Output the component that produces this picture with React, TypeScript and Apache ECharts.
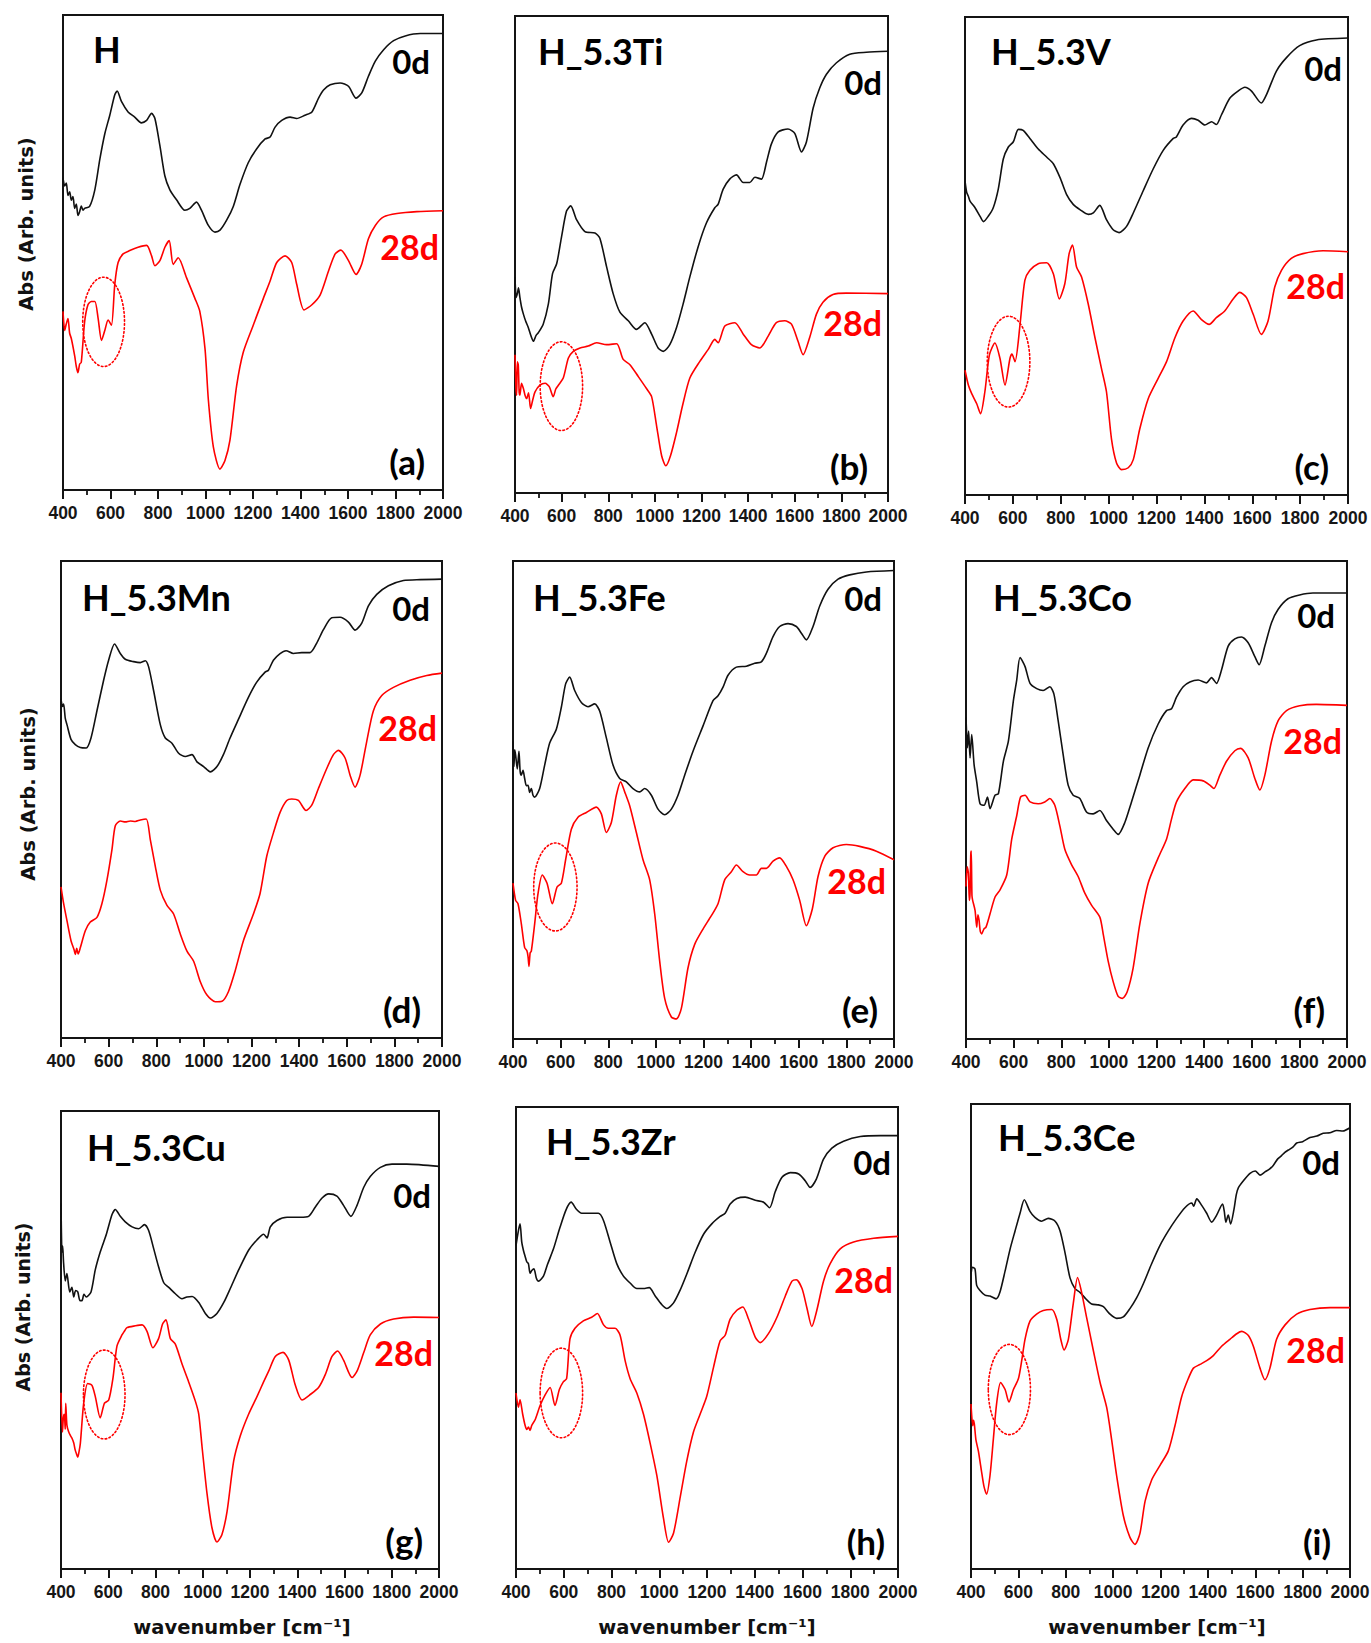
import React, { useEffect, useRef } from "react";
import * as echarts from "echarts";

// FTIR spectra, 400–2000 cm-1, before (0d) and after 28 days (28d) of soaking.
// Each curve is a list of [wavenumber, absorbance (arbitrary, offset per panel)].

const X_MIN = 400;
const X_MAX = 2000;
const X_STEP = 200;

const H_0d = [[400,65.7],[407,64.0],[414,64.6],[421,62.0],[428,62.8],[435,61.0],[442,61.8],[449,59.3],[456,60.2],[463,57.8],[470,58.6],[477,59.8],[484,58.9],[491,59.3],[512,59.7],[534,63.2],[555,69.6],[576,75.0],[597,78.9],[618,83.2],[628,84.0],[646,81.8],[674,79.6],[702,78.5],[730,77.3],[752,77.8],[773,79.3],[787,78.2],[808,72.5],[829,66.1],[850,63.2],[878,61.1],[913,58.9],[934,59.3],[962,60.6],[983,58.9],[1012,55.7],[1040,54.3],[1061,54.7],[1089,56.8],[1117,59.7],[1145,64.3],[1180,68.9],[1215,71.8],[1251,73.9],[1272,74.3],[1293,76.4],[1321,77.8],[1356,78.5],[1384,78.2],[1419,78.9],[1448,79.6],[1476,82.5],[1497,84.2],[1525,85.3],[1567,85.7],[1602,85.0],[1634,82.5],[1658,83.6],[1686,87.1],[1715,90.3],[1750,92.7],[1792,94.6],[1841,95.6],[1904,96.1],[2000,96.1]];
const H_28d = [[400,37.6],[407,33.6],[414,35.0],[421,36.1],[428,33.0],[435,31.9],[449,28.3],[456,26.0],[463,24.7],[470,26.5],[477,26.9],[491,35.4],[505,39.0],[519,39.7],[534,39.7],[548,36.1],[562,31.5],[576,33.6],[590,35.8],[604,34.7],[618,43.3],[632,47.9],[653,49.7],[681,50.4],[716,51.1],[752,51.5],[773,49.3],[787,47.2],[808,48.3],[829,51.1],[847,52.5],[864,47.5],[885,48.9],[920,44.7],[955,40.4],[976,37.6],[998,29.7],[1012,19.0],[1033,9.1],[1061,4.4],[1082,6.2],[1103,10.5],[1131,21.9],[1159,29.0],[1201,34.7],[1244,40.4],[1272,44.0],[1300,47.9],[1335,49.3],[1363,47.9],[1384,43.3],[1415,37.9],[1448,39.0],[1483,41.1],[1518,46.1],[1546,49.7],[1570,50.5],[1602,48.3],[1634,45.4],[1658,47.6],[1686,52.9],[1715,55.7],[1750,57.5],[1806,58.2],[1890,58.6],[2000,58.8]];

const Ti_0d = [[400,45.3],[405,41.0],[410,41.8],[415,43.0],[421,41.0],[428,39.0],[436,37.5],[446,36.0],[457,34.7],[468,33.0],[479,31.8],[490,33.0],[500,33.6],[521,35.4],[543,39.6],[561,46.0],[579,48.1],[600,53.8],[621,59.1],[639,60.2],[664,57.3],[700,54.8],[743,54.5],[764,53.4],[793,47.4],[821,41.8],[850,37.9],[886,36.1],[921,34.3],[957,35.7],[986,33.3],[1014,30.4],[1036,29.7],[1064,31.1],[1093,34.7],[1121,39.6],[1150,45.3],[1186,51.7],[1221,56.6],[1257,59.8],[1271,60.5],[1293,63.7],[1321,65.8],[1350,66.7],[1379,65.1],[1407,65.1],[1429,66.2],[1457,65.8],[1479,69.4],[1500,73.2],[1529,75.7],[1571,76.3],[1600,75.4],[1629,71.5],[1650,73.6],[1679,80.7],[1707,84.9],[1736,87.8],[1779,90.2],[1836,92.0],[1907,92.4],[2000,92.6]];
const Ti_28d = [[400,29.0],[404,22.0],[407,20.5],[410,27.5],[414,26.9],[418,21.0],[421,20.5],[428,23.0],[436,21.9],[443,20.5],[450,19.8],[458,21.0],[467,17.7],[476,19.5],[486,21.2],[507,22.6],[529,23.0],[547,22.3],[564,20.2],[575,21.8],[586,22.6],[607,24.1],[629,28.3],[650,29.7],[679,30.4],[714,30.8],[750,31.5],[793,31.1],[836,31.3],[864,28.0],[893,26.9],[929,24.4],[964,21.9],[986,20.2],[1007,14.2],[1029,7.8],[1047,5.7],[1067,7.8],[1093,12.7],[1119,18.4],[1150,24.1],[1193,27.6],[1229,30.1],[1257,32.2],[1271,31.5],[1300,35.0],[1343,35.7],[1379,33.3],[1414,31.1],[1450,30.4],[1486,32.9],[1521,35.7],[1557,36.1],[1586,35.4],[1614,31.8],[1636,29.0],[1664,32.6],[1693,37.5],[1721,40.0],[1764,41.6],[1821,41.9],[2000,41.8]];

const V_0d = [[400,65.7],[407,63.3],[414,62.5],[421,61.5],[442,60.1],[463,58.3],[477,57.2],[497,58.3],[518,60.1],[539,64.0],[560,70.3],[581,72.8],[602,73.9],[623,76.5],[643,76.3],[671,74.6],[706,72.4],[741,70.7],[769,69.3],[797,66.4],[824,62.9],[852,60.8],[880,59.7],[915,58.7],[936,59.0],[963,60.6],[991,57.6],[1019,55.5],[1044,54.9],[1075,56.2],[1103,59.0],[1144,63.6],[1186,68.2],[1228,72.1],[1270,74.6],[1283,74.9],[1311,77.4],[1346,78.8],[1374,78.4],[1402,77.4],[1430,78.1],[1450,77.5],[1471,79.5],[1506,83.0],[1541,84.5],[1569,85.3],[1597,84.5],[1638,82.0],[1659,83.7],[1701,88.7],[1743,91.5],[1798,94.0],[1868,95.2],[2000,95.6]];
const V_28d = [[400,26.1],[414,23.0],[428,21.2],[449,19.1],[465,17.0],[483,21.6],[502,29.3],[525,31.8],[546,28.6],[567,23.0],[588,28.6],[596,29.5],[609,27.9],[630,35.7],[650,44.9],[671,47.0],[706,48.4],[741,48.6],[769,46.3],[794,41.0],[817,44.2],[835,50.5],[849,52.3],[866,47.7],[887,45.6],[915,39.9],[943,32.9],[970,26.5],[991,21.6],[1012,11.7],[1033,6.7],[1054,5.3],[1082,5.7],[1103,7.4],[1130,13.8],[1165,20.1],[1207,24.4],[1242,27.9],[1277,32.9],[1311,36.4],[1353,38.5],[1388,36.7],[1420,35.7],[1450,37.1],[1485,38.5],[1520,41.0],[1548,42.4],[1576,41.3],[1604,37.8],[1638,33.6],[1666,36.4],[1694,43.5],[1722,47.0],[1763,49.5],[1812,50.5],[1896,51.1],[2000,50.9]];

const Mn_0d = [[400,71.1],[406,69.5],[411,70.0],[418,67.0],[425,65.7],[442,62.6],[460,61.5],[481,60.9],[506,60.8],[526,62.9],[551,68.6],[579,75.0],[600,79.2],[625,82.6],[649,80.6],[670,79.4],[705,78.9],[733,78.7],[754,79.1],[768,77.8],[789,72.8],[817,65.7],[838,62.9],[866,61.8],[894,59.7],[922,59.0],[950,59.4],[971,57.9],[999,56.9],[1027,55.8],[1055,56.9],[1082,59.4],[1110,62.9],[1145,66.8],[1187,71.4],[1222,74.6],[1257,76.7],[1271,77.1],[1292,79.2],[1320,80.6],[1345,81.2],[1376,80.6],[1411,80.8],[1446,80.8],[1474,82.8],[1502,85.6],[1537,88.1],[1572,88.2],[1607,87.2],[1635,85.5],[1663,87.0],[1691,90.6],[1726,93.0],[1775,94.8],[1838,95.9],[1908,96.1],[2000,96.2]];
const Mn_28d = [[400,31.7],[411,28.2],[425,24.6],[442,20.4],[455,18.5],[460,17.5],[466,18.8],[472,17.6],[481,18.9],[502,22.5],[523,24.3],[551,25.3],[572,28.2],[593,33.1],[614,39.5],[628,44.5],[649,45.5],[670,45.3],[691,45.5],[712,45.4],[733,45.7],[758,45.9],[775,41.6],[796,36.0],[817,31.0],[845,27.8],[873,26.0],[901,21.8],[929,18.2],[957,16.1],[985,11.8],[1013,9.0],[1048,7.6],[1076,7.7],[1103,9.7],[1131,14.0],[1166,20.4],[1208,26.0],[1236,30.3],[1264,38.1],[1292,43.0],[1320,47.3],[1348,49.8],[1369,50.1],[1397,49.8],[1429,47.7],[1453,48.8],[1481,52.3],[1516,56.5],[1544,59.4],[1565,60.3],[1593,58.7],[1614,55.1],[1635,52.6],[1656,55.1],[1684,62.2],[1712,68.6],[1747,71.8],[1796,73.5],[1866,75.0],[1936,76.0],[2000,76.5]];

const Fe_0d = [[400,62.3],[404,57.0],[407,60.5],[411,59.4],[418,56.5],[425,60.2],[430,56.0],[435,55.2],[442,56.2],[449,54.5],[456,53.0],[463,53.1],[470,51.6],[477,52.4],[484,51.0],[491,50.6],[512,52.4],[533,57.3],[554,61.9],[582,64.8],[603,69.4],[621,74.3],[638,75.7],[659,72.9],[687,70.4],[715,69.5],[743,70.1],[764,68.6],[792,63.0],[820,57.3],[848,54.5],[876,53.8],[904,52.4],[932,51.7],[953,52.4],[981,51.0],[1009,48.1],[1037,46.9],[1065,48.1],[1093,51.0],[1121,55.2],[1156,60.2],[1198,65.5],[1240,70.8],[1261,71.8],[1282,73.6],[1303,76.1],[1338,77.8],[1380,78.0],[1415,78.6],[1443,78.9],[1464,80.7],[1492,84.2],[1520,86.3],[1555,86.9],[1590,86.3],[1611,84.9],[1632,83.5],[1660,86.3],[1688,90.6],[1723,94.1],[1765,96.2],[1814,97.1],[1884,97.7],[2000,98.0]];
const Fe_28d = [[400,32.6],[411,29.0],[421,28.3],[435,24.1],[449,19.1],[458,18.5],[463,17.3],[467,15.2],[472,18.0],[477,18.4],[491,24.1],[505,30.4],[523,34.3],[543,32.6],[565,28.3],[585,31.8],[603,32.6],[621,37.5],[645,43.9],[673,46.4],[708,47.4],[750,48.5],[771,47.1],[792,43.2],[813,45.3],[834,51.0],[852,53.8],[869,51.7],[890,48.8],[918,43.2],[946,37.5],[974,33.3],[995,26.2],[1016,16.3],[1037,8.5],[1065,4.6],[1086,4.2],[1107,6.4],[1135,14.9],[1163,19.8],[1198,23.0],[1233,25.8],[1261,28.3],[1289,33.3],[1317,35.0],[1338,36.4],[1366,35.0],[1394,34.3],[1422,34.3],[1443,35.7],[1464,35.7],[1492,37.2],[1520,37.9],[1548,36.1],[1576,33.3],[1604,29.0],[1632,23.7],[1657,27.2],[1681,34.0],[1709,38.2],[1744,40.0],[1800,40.7],[1856,40.3],[1926,39.3],[2000,37.5]];

const Co_0d = [[400,67.3],[406,60.9],[411,64.4],[417,58.8],[424,63.7],[434,57.4],[445,53.8],[459,49.2],[476,48.9],[490,50.6],[501,48.2],[522,51.0],[536,51.3],[557,58.1],[578,62.3],[599,70.8],[613,75.1],[627,79.8],[648,77.9],[669,74.4],[697,73.3],[724,72.9],[752,73.7],[769,72.2],[787,66.6],[808,59.5],[829,53.1],[850,51.0],[878,50.3],[906,47.5],[934,47.1],[962,47.8],[990,45.7],[1018,43.9],[1039,42.8],[1067,45.3],[1095,49.6],[1130,55.2],[1165,60.9],[1207,65.9],[1242,68.7],[1263,69.1],[1284,71.5],[1312,73.7],[1340,74.7],[1375,75.1],[1410,74.5],[1431,75.6],[1452,74.4],[1473,77.2],[1501,82.2],[1529,83.7],[1557,84.1],[1585,82.9],[1613,80.0],[1631,78.3],[1655,82.2],[1683,87.1],[1711,89.9],[1752,92.1],[1801,92.9],[1857,93.3],[2000,93.3]];
const Co_28d = [[400,31.9],[405,36.0],[410,34.7],[414,29.0],[417,30.5],[420,38.5],[422,39.3],[425,30.0],[428,29.0],[438,26.9],[445,23.4],[450,26.0],[455,24.8],[460,22.5],[466,22.0],[475,23.0],[484,23.4],[501,26.2],[522,29.7],[543,31.2],[571,34.3],[592,41.8],[613,46.7],[629,50.6],[648,51.0],[669,49.6],[703,49.2],[731,49.6],[752,50.3],[773,48.9],[794,44.6],[815,39.7],[843,36.5],[871,34.0],[899,30.5],[927,28.0],[962,25.5],[976,22.0],[997,16.3],[1018,12.0],[1039,8.9],[1057,8.5],[1077,9.9],[1102,14.9],[1130,24.1],[1165,32.6],[1207,37.9],[1242,41.8],[1263,46.0],[1284,49.6],[1319,52.4],[1354,54.2],[1396,54.0],[1424,53.1],[1441,52.4],[1466,55.2],[1494,58.1],[1529,60.3],[1553,60.8],[1585,58.8],[1613,54.5],[1634,52.1],[1655,55.2],[1683,62.3],[1711,66.6],[1746,68.7],[1801,69.7],[1871,70.0],[2000,69.8]];

const Cu_0d = [[400,79.8],[404,69.2],[407,70.5],[411,66.8],[418,62.9],[425,64.5],[437,60.5],[446,61.5],[454,59.4],[462,60.8],[471,60.5],[480,58.6],[489,58.6],[497,60.0],[507,59.4],[527,60.5],[545,65.3],[566,69.2],[592,73.1],[616,77.4],[630,78.5],[651,77.0],[672,75.8],[701,74.7],[729,74.3],[753,75.2],[771,73.9],[792,70.0],[813,66.0],[835,62.5],[856,61.5],[884,60.1],[912,59.0],[933,59.4],[955,59.5],[983,58.2],[1011,55.8],[1032,54.8],[1060,55.8],[1089,58.2],[1117,61.3],[1152,65.3],[1194,69.6],[1230,71.9],[1258,73.1],[1272,72.3],[1286,74.7],[1314,76.1],[1357,76.8],[1413,76.8],[1448,77.0],[1476,79.0],[1505,81.0],[1533,81.9],[1568,81.4],[1596,79.4],[1627,77.0],[1653,79.4],[1681,83.3],[1709,85.7],[1752,87.7],[1801,88.4],[1864,88.4],[2000,87.9]];
const Cu_28d = [[400,38.5],[406,29.9],[410,33.0],[414,33.8],[418,30.5],[420,36.2],[425,31.4],[432,30.0],[440,29.1],[447,28.5],[454,27.5],[460,26.0],[465,25.2],[471,24.4],[476,25.5],[482,27.5],[496,36.2],[513,40.5],[531,40.1],[545,37.7],[566,33.0],[584,36.2],[602,36.9],[620,41.7],[637,48.7],[658,51.1],[668,51.9],[679,52.7],[715,53.1],[743,53.3],[764,51.9],[789,48.3],[813,50.3],[830,53.5],[844,54.4],[863,50.3],[884,49.1],[912,44.8],[940,40.9],[969,36.6],[983,33.8],[997,26.7],[1018,16.5],[1039,9.0],[1060,5.9],[1081,7.5],[1103,12.6],[1131,23.6],[1159,29.1],[1194,33.8],[1230,37.7],[1258,40.9],[1279,43.2],[1307,46.4],[1340,47.3],[1364,45.6],[1392,40.1],[1420,36.9],[1455,38.1],[1491,39.7],[1519,42.5],[1547,46.4],[1571,47.6],[1596,45.6],[1632,41.8],[1653,43.2],[1681,47.2],[1709,51.1],[1752,53.5],[1808,54.6],[1893,55.0],[2000,54.9]];

const Zr_0d = [[400,70.0],[410,73.2],[417,74.7],[424,70.8],[431,69.0],[438,67.7],[445,66.5],[452,66.1],[459,64.0],[466,64.6],[475,65.0],[485,63.0],[494,62.3],[515,63.4],[531,65.8],[557,69.3],[584,73.9],[610,77.8],[631,79.4],[654,77.8],[675,77.0],[710,77.0],[745,77.0],[766,75.5],[794,70.8],[822,66.1],[850,63.4],[878,61.9],[906,60.7],[934,60.7],[958,60.9],[983,59.1],[1011,57.2],[1032,56.4],[1060,57.6],[1087,60.3],[1115,63.8],[1150,68.5],[1185,72.4],[1220,74.7],[1255,76.3],[1276,77.0],[1297,79.0],[1325,80.2],[1360,80.5],[1402,79.8],[1437,79.4],[1462,78.2],[1486,81.7],[1514,84.8],[1549,85.8],[1584,85.5],[1612,84.0],[1632,82.6],[1658,84.4],[1688,88.7],[1723,91.1],[1772,92.6],[1842,93.6],[1926,93.8],[2000,93.8]];
const Zr_28d = [[400,38.1],[410,35.0],[417,36.6],[428,33.5],[438,31.1],[445,30.2],[452,30.7],[459,30.0],[466,31.1],[480,32.3],[501,35.4],[522,37.7],[543,39.3],[563,35.4],[582,38.9],[598,40.5],[612,41.2],[626,49.8],[647,52.1],[682,53.7],[717,54.5],[741,55.3],[766,52.9],[787,52.1],[815,52.1],[836,50.6],[857,45.1],[878,41.2],[906,38.1],[934,33.5],[962,27.2],[990,20.2],[1018,10.9],[1039,5.8],[1060,7.8],[1088,15.6],[1115,23.3],[1143,29.6],[1171,33.5],[1199,37.4],[1227,43.6],[1255,49.4],[1276,50.6],[1297,54.1],[1325,56.0],[1350,56.7],[1374,54.1],[1402,50.2],[1423,49.0],[1458,51.0],[1493,54.5],[1528,59.1],[1556,62.3],[1574,62.6],[1598,60.7],[1619,56.4],[1639,52.5],[1660,56.0],[1688,62.3],[1716,66.1],[1758,69.3],[1814,70.8],[1898,71.6],[2000,72.0]];

const Ce_0d = [[400,63.4],[407,64.9],[417,64.5],[424,61.0],[438,59.9],[459,58.9],[480,58.7],[506,58.1],[522,59.5],[544,64.1],[565,68.8],[586,72.7],[607,76.5],[625,79.4],[649,76.9],[670,75.6],[698,74.8],[726,75.4],[755,74.8],[776,72.7],[797,68.0],[818,62.6],[839,60.3],[860,59.5],[881,58.3],[909,57.0],[938,56.8],[959,56.4],[987,54.8],[1015,53.9],[1043,54.2],[1071,56.0],[1099,58.3],[1128,61.4],[1163,65.7],[1198,69.6],[1233,72.7],[1268,75.4],[1303,77.7],[1332,78.7],[1340,78.0],[1353,79.6],[1374,78.2],[1395,76.5],[1416,74.6],[1437,76.1],[1462,78.5],[1469,77.0],[1476,74.6],[1486,76.1],[1496,74.2],[1510,77.3],[1520,80.5],[1529,82.0],[1550,83.5],[1578,85.1],[1600,85.6],[1620,84.7],[1641,85.4],[1660,86.0],[1676,86.8],[1695,88.2],[1711,88.9],[1725,89.6],[1740,90.1],[1760,90.8],[1775,91.6],[1800,91.9],[1831,92.8],[1860,93.1],[1887,93.7],[1915,93.8],[1944,94.3],[1970,94.2],[2000,94.9]];
const Ce_28d = [[400,35.5],[407,30.8],[410,32.0],[414,31.2],[421,27.7],[431,25.4],[445,20.8],[455,17.7],[466,16.1],[480,20.0],[494,27.7],[508,35.5],[525,40.1],[544,38.6],[560,35.9],[579,38.6],[600,40.9],[614,44.8],[628,49.4],[649,53.3],[677,54.8],[705,55.6],[741,55.8],[762,53.7],[779,49.4],[793,47.1],[811,49.4],[832,57.2],[850,62.7],[867,59.5],[888,54.1],[916,47.1],[945,40.1],[973,34.7],[994,27.7],[1015,20.0],[1043,11.5],[1071,6.8],[1092,5.3],[1113,7.6],[1135,14.6],[1163,19.2],[1198,22.3],[1233,25.4],[1261,30.8],[1289,37.0],[1317,40.9],[1339,43.2],[1367,44.0],[1395,44.8],[1423,45.9],[1458,47.9],[1493,49.4],[1522,50.6],[1543,51.1],[1571,50.2],[1592,47.9],[1620,43.2],[1641,40.7],[1662,43.2],[1690,49.4],[1726,52.5],[1775,54.8],[1831,55.8],[1916,56.2],[2000,56.2]];

// Dotted rings around the 500–650 cm-1 doublet: [centre wavenumber, centre abs, half-width cm-1, half-height abs]
const H_ring = [571, 35.4, 88, 9.4];
const Ti_ring = [599, 22.4, 91, 9.3];
const V_ring = [582, 27.9, 89, 9.5];
const Fe_ring = [578, 31.8, 91, 9.2];
const Cu_ring = [583, 38.1, 88, 9.7];
const Zr_ring = [590, 38.1, 89, 9.7];
const Ce_ring = [562, 38.6, 89, 9.7];

const SAMPLE_NAMES = ["H", "H_5.3Ti", "H_5.3V", "H_5.3Mn", "H_5.3Fe", "H_5.3Co", "H_5.3Cu", "H_5.3Zr", "H_5.3Ce"];
const PANEL_TAGS = ["(a)", "(b)", "(c)", "(d)", "(e)", "(f)", "(g)", "(h)", "(i)"];
const DAY_LABELS = ["0d", "28d"];
const Y_TITLE = "Abs (Arb. units)";
const X_TITLE = "wavenumber [cm⁻¹]";

const SPECTRA_0D = [H_0d, Ti_0d, V_0d, Mn_0d, Fe_0d, Co_0d, Cu_0d, Zr_0d, Ce_0d];
const SPECTRA_28D = [H_28d, Ti_28d, V_28d, Mn_28d, Fe_28d, Co_28d, Cu_28d, Zr_28d, Ce_28d];
const RINGS = [H_ring, Ti_ring, V_ring, null, Fe_ring, null, Cu_ring, Zr_ring, Ce_ring];

// ---- layout (pixels): [left, top, width, height] of each plot frame ----
const GRID_BOXES = [
  [63, 15, 380, 475],
  [515, 16, 373, 477],
  [965, 17, 383, 478],
  [61, 561, 381, 477],
  [513, 561, 381, 478],
  [966, 561, 381, 478],
  [61, 1111, 378, 458],
  [516, 1107, 382, 462],
  [971, 1104, 379, 465],
];
const TITLE_AT = [[93, 49], [538, 51], [991, 51], [82, 597], [533, 597], [993, 597], [87, 1147], [546, 1141], [998, 1137]];
const DAY0_AT = [[430, 61], [882, 82], [1342, 68], [430, 608], [882, 598], [1335, 615], [431, 1195], [891, 1162], [1340, 1162]];
const DAY28_AT = [[439, 246], [882, 322], [1345, 285], [437, 727], [886, 880], [1342, 740], [433, 1352], [893, 1279], [1345, 1349]];
const TAG_AT = [[425, 461], [868, 466], [1329, 466], [421, 1009], [878, 1009], [1325, 1009], [423, 1540], [885, 1541], [1331, 1541]];
const Y_TITLE_AT = [[26, 224, 19.5], [28, 794, 19.5], [23, 1307, 19]];
const X_TITLE_AT = [[242, 1627], [707, 1627], [1157, 1627]];

const INK = "#141414";
const RED = "#ff0000";
const LABEL_FONT = "Lato, 'Open Sans', sans-serif";

function text(t: string, x: number, y: number, font: string, fill: string, align = "left", rotation = 0) {
  return {
    type: "text",
    x,
    y,
    rotation,
    silent: true,
    z: 100,
    style: { text: t, font, fill, align, verticalAlign: "middle", textAlign: align, textVerticalAlign: "middle" },
  };
}

function buildOption() {
  const grid: any[] = [];
  const xAxis: any[] = [];
  const yAxis: any[] = [];
  const series: any[] = [];
  const elements: any[] = [];

  GRID_BOXES.forEach(([left, top, width, height], i) => {
    grid.push({
      left, top, width, height,
      show: true,
      borderColor: INK,
      borderWidth: 2,
      backgroundColor: "transparent",
      containLabel: false,
      outerBoundsMode: "none",
    });
    xAxis.push({
      gridIndex: i,
      type: "value",
      min: X_MIN,
      max: X_MAX,
      interval: X_STEP,
      axisLine: { show: true, onZero: false, lineStyle: { color: INK, width: 2 } },
      axisTick: { show: true, inside: false, length: 9, lineStyle: { color: INK, width: 2 } },
      minorTick: { show: true, splitNumber: 2, length: 5, lineStyle: { color: INK, width: 1.8 } },
      axisLabel: {
        show: true,
        margin: 14,
        color: "#161616",
        fontFamily: "'Liberation Sans', Arial, sans-serif",
        fontWeight: "bold",
        fontSize: 17.5,
        showMinLabel: true,
        showMaxLabel: true,
        formatter: (v: number) => String(v),
      },
      splitLine: { show: false },
      minorSplitLine: { show: false },
    });
    yAxis.push({
      gridIndex: i,
      type: "value",
      min: 0,
      max: 100,
      axisLine: { show: true, onZero: false, lineStyle: { color: INK, width: 2 } },
      axisTick: { show: false },
      axisLabel: { show: false },
      splitLine: { show: false },
    });
    series.push({
      type: "line",
      name: `${SAMPLE_NAMES[i]} ${DAY_LABELS[0]}`,
      xAxisIndex: i,
      yAxisIndex: i,
      data: SPECTRA_0D[i],
      showSymbol: false,
      symbol: "none",
      smooth: 0.25,
      silent: true,
      lineStyle: { color: "#111", width: 1.6, join: "round" },
      z: 2,
    });
    series.push({
      type: "line",
      name: `${SAMPLE_NAMES[i]} ${DAY_LABELS[1]}`,
      xAxisIndex: i,
      yAxisIndex: i,
      data: SPECTRA_28D[i],
      showSymbol: false,
      symbol: "none",
      smooth: 0.25,
      silent: true,
      lineStyle: { color: RED, width: 1.6, join: "round" },
      z: 2,
    });
    const ring = RINGS[i];
    if (ring) {
      series.push({
        type: "custom",
        xAxisIndex: i,
        yAxisIndex: i,
        silent: true,
        clip: false,
        z: 3,
        dimensions: ["x", "y", "rx", "ry"],
        encode: { x: 0, y: 1 },
        data: [ring],
        renderItem: (_params: any, api: any) => {
          const c = api.coord([api.value(0), api.value(1)]);
          const s = api.size([api.value(2), api.value(3)]);
          return {
            type: "ellipse",
            shape: { cx: c[0], cy: c[1], rx: s[0], ry: s[1] },
            style: { fill: "none", stroke: RED, lineWidth: 1.6, lineDash: [1.6, 2.4], lineCap: "round" },
          };
        },
      });
    }

    elements.push(text(SAMPLE_NAMES[i], TITLE_AT[i][0], TITLE_AT[i][1], `bold 36px ${LABEL_FONT}`, "#000", "left"));
    elements.push(text(DAY_LABELS[0], DAY0_AT[i][0], DAY0_AT[i][1], `bold 33px ${LABEL_FONT}`, "#000", "right"));
    elements.push(text(DAY_LABELS[1], DAY28_AT[i][0], DAY28_AT[i][1], `bold 34px ${LABEL_FONT}`, RED, "right"));
    elements.push(text(PANEL_TAGS[i], TAG_AT[i][0], TAG_AT[i][1], `bold 35px ${LABEL_FONT}`, "#000", "right"));
  });

  Y_TITLE_AT.forEach(([x, y, size]) => {
    elements.push(text(Y_TITLE, x, y, `bold ${size}px 'DejaVu Sans', sans-serif`, "#111", "center", Math.PI / 2));
  });
  X_TITLE_AT.forEach(([x, y]) => {
    elements.push(text(X_TITLE, x, y, "bold 19.5px 'DejaVu Sans', sans-serif", "#111", "center"));
  });

  return {
    animation: false,
    backgroundColor: "#ffffff",
    grid,
    xAxis,
    yAxis,
    series,
    graphic: { elements },
  };
}

export default function App() {
  const ref = useRef<HTMLDivElement>(null);

  useEffect(() => {
    if (!ref.current) return;
    const chart = echarts.init(ref.current, undefined, { renderer: "svg" });
    chart.setOption(buildOption() as any);
    return () => chart.dispose();
  }, []);

  return (
    <div
      ref={ref}
      style={{ position: "absolute", left: 0, top: 0, width: 1371, height: 1643, background: "#fff" }}
    />
  );
}
